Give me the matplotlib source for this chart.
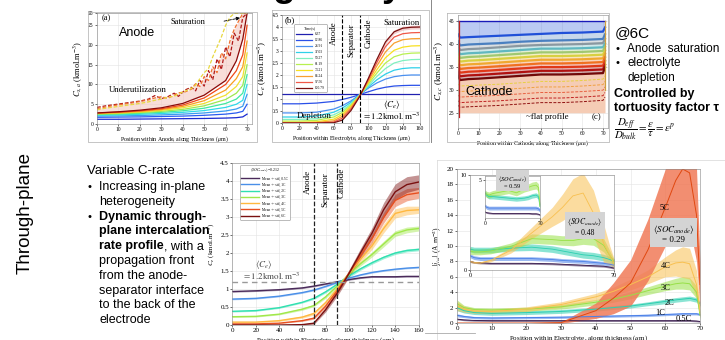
import numpy as np
import matplotlib.pyplot as plt
from matplotlib.lines import Line2D

plt.rcParams['font.family'] = ['Liberation Serif', 'DejaVu Serif']
plt.rcParams['mathtext.fontset'] = 'stix'

# ---- panel (a): anode solid concentration
a_x = [0, 10, 20, 30, 40, 50, 60, 65, 68, 70]
a_curves = [
    [1.2, 1.2, 1.25, 1.3, 1.35, 1.4, 1.5, 1.6, 1.8, 2.5],
    [1.7, 1.75, 1.8, 1.9, 2.0, 2.2, 2.5, 2.8, 3.2, 5.0],
    [2.0, 2.05, 2.15, 2.3, 2.5, 2.8, 3.3, 3.8, 4.5, 7.5],
    [2.2, 2.3, 2.45, 2.65, 2.95, 3.4, 4.2, 5.0, 6.0, 10.0],
    [2.4, 2.5, 2.7, 2.95, 3.35, 4.0, 5.2, 6.3, 7.8, 12.5],
    [2.5, 2.65, 2.9, 3.2, 3.7, 4.6, 6.2, 7.8, 9.8, 15.0],
    [2.6, 2.8, 3.05, 3.45, 4.1, 5.2, 7.3, 9.5, 12.0, 18.0],
    [2.7, 2.9, 3.2, 3.65, 4.45, 5.9, 8.6, 11.5, 14.5, 21.0],
    [2.8, 3.0, 3.35, 3.85, 4.8, 6.6, 10.0, 13.5, 17.5, 25.0],
    [2.8, 3.1, 3.5, 4.1, 5.2, 7.3, 11.0, 16.0, 21.5, 28.0],
]
a_colors = ['#1a2ad0', '#2a5cf0', '#3a9cf0', '#30d8e8', '#40e8a0',
            '#9ce850', '#f0e030', '#f8a020', '#f04818', '#8a0a0a']
a_dash_x = [0, 4, 8, 12, 16, 20, 24, 27, 30, 33, 36, 38, 41, 44, 46, 48, 50,
            52, 54, 56, 58, 60, 62, 64, 66, 68, 70]
a_dash = [
    [4.2, 4.6, 4.9, 5.2, 5.5, 5.8, 6.3, 7.2, 6.4, 6.9, 7.8, 7.0, 8.6, 9.3, 8.4,
     11.0, 9.6, 13.5, 11.2, 16.5, 13.8, 19.5, 17.0, 23.0, 21.0, 27.0, 28.0],
    [3.9, 4.3, 4.7, 5.0, 5.3, 5.7, 6.1, 6.6, 6.9, 6.5, 7.3, 7.9, 8.1, 8.8, 10.2,
     9.5, 12.0, 11.0, 14.5, 13.0, 18.0, 16.5, 21.0, 24.0, 26.0, 28.0, 28.0],
    [3.6, 4.0, 4.3, 4.6, 4.9, 5.2, 5.6, 6.0, 6.3, 6.8, 7.0, 7.6, 8.3, 9.0, 9.8,
     11.5, 13.0, 14.0, 17.0, 19.5, 22.0, 25.0, 27.0, 28.0, 28.0, 28.0, 28.0],
]
a_dash_colors = ['#b01818', '#f07030', '#e8d840']

# ---- panel (b): electrolyte concentration over time
b_x = [0, 20, 40, 60, 70, 80, 90, 100, 110, 120, 130, 140, 150, 160]
b_times = ['6.37', '12.86', '26.91', '37.03', '50.27', '61.19', '73.21',
           '85.24', '97.56', '100.79']
b_curves = [
    [1.2, 1.2, 1.2, 1.2, 1.2, 1.2, 1.2, 1.2, 1.2, 1.2, 1.2, 1.2, 1.2, 1.2],
    [0.8, 0.8, 0.83, 0.9, 0.98, 1.07, 1.18, 1.3, 1.41, 1.49, 1.54, 1.56, 1.57, 1.57],
    [0.42, 0.42, 0.45, 0.58, 0.72, 0.92, 1.18, 1.45, 1.67, 1.83, 1.93, 1.98, 2.0, 2.0],
    [0.25, 0.25, 0.29, 0.45, 0.62, 0.86, 1.17, 1.5, 1.8, 2.04, 2.2, 2.27, 2.3, 2.3],
    [0.15, 0.15, 0.18, 0.34, 0.52, 0.8, 1.16, 1.56, 1.94, 2.27, 2.5, 2.6, 2.64, 2.65],
    [0.08, 0.08, 0.11, 0.25, 0.44, 0.75, 1.15, 1.62, 2.08, 2.5, 2.76, 2.87, 2.91, 2.92],
    [0.03, 0.03, 0.05, 0.16, 0.36, 0.7, 1.14, 1.68, 2.22, 2.72, 3.03, 3.16, 3.21, 3.22],
    [0.01, 0.01, 0.02, 0.09, 0.28, 0.64, 1.13, 1.74, 2.38, 2.96, 3.33, 3.47, 3.51, 3.52],
    [0, 0, 0, 0.04, 0.2, 0.58, 1.12, 1.8, 2.52, 3.18, 3.58, 3.72, 3.76, 3.77],
    [0, 0, 0, 0.01, 0.12, 0.52, 1.1, 1.85, 2.65, 3.38, 3.8, 3.95, 3.99, 4.0],
]
b_colors = ['#2020b0', '#2a50e8', '#4a90f0', '#30d0e8', '#80f0c0',
            '#b8f050', '#f8e020', '#f8a030', '#f05848', '#7a1010']

# ---- panel (c): cathode solid concentration
c_x = [0, 1, 5, 10, 20, 30, 40, 50, 60, 70, 71]
c_top = [44.9, 44.9, 44.9, 44.9, 44.9, 44.9, 44.9, 44.9, 44.9, 44.9, 44.9]
c_curves = [
    [42.0, 41.3, 41.4, 41.5, 41.7, 41.9, 42.1, 42.3, 42.4, 42.6, 43.5],
    [40.5, 39.6, 39.8, 39.9, 40.1, 40.4, 40.6, 40.7, 40.8, 41.0, 42.0],
    [39.5, 38.6, 38.8, 38.9, 39.2, 39.5, 39.7, 39.8, 39.9, 40.1, 41.0],
    [38.6, 37.7, 37.9, 38.0, 38.3, 38.6, 38.9, 38.9, 39.0, 39.2, 40.0],
    [37.8, 36.9, 37.1, 37.2, 37.5, 37.8, 38.1, 38.1, 38.2, 38.4, 39.3],
    [37.0, 36.1, 36.3, 36.4, 36.7, 37.0, 37.3, 37.3, 37.4, 37.6, 38.5],
    [36.2, 35.3, 35.5, 35.6, 35.9, 36.2, 36.5, 36.5, 36.6, 36.8, 37.8],
    [35.4, 34.5, 34.7, 34.8, 35.1, 35.4, 35.7, 35.7, 35.8, 36.0, 37.0],
    [34.6, 33.7, 33.9, 34.0, 34.3, 34.6, 34.9, 34.9, 35.0, 35.2, 36.2],
    [33.8, 32.9, 33.1, 33.2, 33.5, 33.8, 34.1, 34.1, 34.2, 34.4, 35.4],
    [33.0, 32.1, 32.3, 32.4, 32.7, 33.0, 33.3, 33.3, 33.4, 33.6, 34.8],
]
c_colors = ['#2050d8', '#4a80c0', '#8a98a0', '#60b8c0', '#a0c870',
            '#d8d040', '#f0a830', '#f07020', '#e03818', '#b01010', '#700808']
c_dash = [
    [31.2, 30.8, 30.9, 31.0, 31.2, 31.5, 31.8, 31.8, 32.0, 32.3, 33.0],
    [30.0, 29.6, 29.7, 29.8, 30.0, 30.3, 30.6, 30.6, 30.8, 31.1, 31.8],
    [28.8, 28.4, 28.5, 28.6, 28.8, 29.1, 29.4, 29.4, 29.6, 29.9, 30.6],
    [27.6, 27.2, 27.3, 27.4, 27.6, 27.9, 28.2, 28.2, 28.4, 28.7, 29.4],
    [26.6, 26.2, 26.3, 26.4, 26.6, 26.9, 27.2, 27.2, 27.4, 27.7, 28.4],
]
c_dash_colors = ['#e8d040', '#f0a040', '#e86040', '#c02020', '#901010']

# ---- bottom middle: electrolyte concentration, mean +- std per C-rate
m_x = [0, 20, 40, 60, 70, 80, 90, 100, 110, 120, 130, 140, 150, 160]
m_labels = ['Mean +- std, 0.5C', 'Mean +- std, 1C', 'Mean +- std, 2C',
            'Mean +- std, 3C', 'Mean +- std, 4C', 'Mean +- std, 5C',
            'Mean +- std, 6C']
m_mean = [
    [0.93, 0.95, 0.98, 1.03, 1.08, 1.14, 1.2, 1.26, 1.31, 1.34, 1.34, 1.34, 1.35, 1.35],
    [0.72, 0.74, 0.8, 0.9, 0.97, 1.07, 1.18, 1.3, 1.39, 1.46, 1.51, 1.55, 1.58, 1.6],
    [0.38, 0.4, 0.48, 0.63, 0.74, 0.92, 1.13, 1.36, 1.56, 1.73, 1.88, 2.0, 2.07, 2.1],
    [0.23, 0.24, 0.3, 0.44, 0.54, 0.78, 1.08, 1.4, 1.7, 1.96, 2.25, 2.54, 2.64, 2.68],
    [0.08, 0.08, 0.12, 0.22, 0.32, 0.62, 1.0, 1.42, 1.82, 2.2, 2.68, 3.1, 3.18, 3.2],
    [0.03, 0.03, 0.05, 0.12, 0.19, 0.52, 0.95, 1.42, 1.92, 2.4, 2.98, 3.46, 3.62, 3.67],
    [0, 0, 0, 0.01, 0.05, 0.42, 0.88, 1.42, 2.0, 2.55, 3.2, 3.7, 3.9, 3.97],
]
m_std = [
    [0.02, 0.02, 0.02, 0.02, 0.02, 0.02, 0.02, 0.02, 0.02, 0.02, 0.02, 0.02, 0.02, 0.02],
    [0.02, 0.02, 0.02, 0.02, 0.02, 0.02, 0.02, 0.02, 0.02, 0.02, 0.02, 0.02, 0.02, 0.02],
    [0.02, 0.02, 0.02, 0.02, 0.03, 0.03, 0.03, 0.04, 0.04, 0.04, 0.04, 0.04, 0.04, 0.04],
    [0.02, 0.02, 0.02, 0.03, 0.03, 0.04, 0.05, 0.05, 0.06, 0.07, 0.08, 0.08, 0.08, 0.07],
    [0.02, 0.02, 0.02, 0.03, 0.04, 0.05, 0.06, 0.07, 0.08, 0.1, 0.12, 0.13, 0.12, 0.1],
    [0.01, 0.01, 0.01, 0.02, 0.03, 0.05, 0.07, 0.09, 0.1, 0.12, 0.15, 0.17, 0.17, 0.15],
    [0, 0, 0, 0.01, 0.03, 0.06, 0.08, 0.1, 0.12, 0.15, 0.2, 0.22, 0.22, 0.2],
]
m_colors = ['#4a2a5a', '#4a8fe8', '#30e0b0', '#a0e84a', '#ffb840', '#e85020', '#7a1010']

# ---- bottom right: intercalation current density
r_x = [0, 2, 5, 10, 20, 30, 40, 45, 50, 55, 60, 63, 65, 67, 69, 70]
r_names = ['0.5C', '1C', '2C', '3C', '4C', '5C']
r_mean = [
    [0.5, 0.4, 0.33, 0.3, 0.3, 0.3, 0.3, 0.3, 0.3, 0.3, 0.3, 0.3, 0.3, 0.3, 0.25, 0.2],
    [1.0, 0.85, 0.7, 0.65, 0.7, 0.75, 0.85, 0.9, 0.95, 1.0, 1.1, 1.15, 1.2, 1.2, 1.2, 1.1],
    [2.0, 1.6, 1.35, 1.25, 1.35, 1.5, 1.8, 2.0, 2.2, 2.5, 2.8, 3.0, 3.1, 3.2, 3.0, 2.5],
    [2.5, 2.0, 1.75, 1.7, 1.8, 2.1, 2.7, 3.1, 3.6, 4.2, 4.8, 5.1, 5.2, 5.1, 4.0, 1.0],
    [2.2, 1.8, 1.55, 1.5, 1.8, 2.4, 3.4, 4.1, 5.0, 6.0, 7.3, 7.8, 7.9, 7.7, 5.0, 1.5],
    [0, 0, 0, 0, 0, 0.05, 1.6, 3.2, 5.2, 9.5, 15.0, 18.5, 20.0, 19.5, 14.0, 5.0],
]
r_std = [
    [0.1, 0.1, 0.1, 0.1, 0.1, 0.1, 0.1, 0.1, 0.1, 0.1, 0.1, 0.1, 0.1, 0.1, 0.1, 0.1],
    [0.2, 0.15, 0.15, 0.15, 0.15, 0.15, 0.15, 0.15, 0.15, 0.15, 0.15, 0.15, 0.15, 0.15, 0.15, 0.15],
    [0.4, 0.3, 0.25, 0.25, 0.25, 0.25, 0.25, 0.25, 0.25, 0.25, 0.3, 0.3, 0.3, 0.3, 0.3, 0.3],
    [0.5, 0.3, 0.25, 0.25, 0.25, 0.3, 0.35, 0.4, 0.45, 0.5, 0.6, 0.7, 0.8, 0.8, 0.8, 0.5],
    [0.6, 0.4, 0.3, 0.3, 0.3, 0.35, 0.45, 0.55, 0.7, 0.9, 1.3, 1.7, 2.0, 2.0, 1.8, 0.8],
    [0, 0, 0, 0, 0, 0.1, 1.0, 2.0, 3.0, 4.0, 5.0, 6.0, 7.0, 7.0, 6.0, 3.0],
]
r_colors = ['#3c1e50', '#4a80e8', '#2ccfb0', '#98e048', '#f8c050', '#f06030']
r_label_x = [65.2, 58.5, 61.3, 60.1, 60.1, 59.9]
r_label_y = [0.48, 1.26, 2.6, 4.5, 7.4, 15.0]

# mid inset (SOC 0.48) and nested inset (SOC 0.59)
i_x = [0, 2, 5, 10, 20, 30, 40, 45, 50, 55, 60, 65, 68, 70]
i_mean = [
    [0.9, 0.8, 0.75, 0.7, 0.7, 0.7, 0.65, 0.6, 0.55, 0.5, 0.45, 0.4, 0.3, 0.2],
    [1.5, 1.3, 1.2, 1.2, 1.2, 1.2, 1.1, 1.0, 0.95, 0.9, 0.8, 0.7, 0.6, 0.5],
    [2.2, 2.1, 2.1, 2.1, 2.3, 2.4, 2.2, 2.0, 1.8, 1.6, 1.5, 1.3, 1.1, 0.9],
    [2.0, 1.9, 1.9, 2.0, 2.5, 3.3, 3.2, 3.1, 3.1, 3.3, 3.3, 2.6, 1.5, 0.8],
    [0.9, 0.8, 0.75, 1.0, 2.1, 3.9, 5.6, 6.6, 7.8, 8.1, 6.0, 2.8, 1.5, 0.7],
]
i_std = [
    [0.1, 0.1, 0.1, 0.1, 0.1, 0.1, 0.1, 0.1, 0.1, 0.1, 0.1, 0.1, 0.1, 0.1],
    [0.2, 0.2, 0.2, 0.2, 0.2, 0.2, 0.2, 0.2, 0.2, 0.2, 0.2, 0.2, 0.2, 0.2],
    [0.3, 0.3, 0.3, 0.3, 0.3, 0.35, 0.35, 0.35, 0.35, 0.35, 0.35, 0.35, 0.3, 0.3],
    [0.35, 0.3, 0.3, 0.3, 0.35, 0.5, 0.5, 0.5, 0.55, 0.6, 0.7, 0.7, 0.5, 0.3],
    [0.1, 0.1, 0.1, 0.15, 0.3, 0.6, 1.0, 1.4, 1.8, 2.1, 2.4, 2.0, 1.0, 0.5],
]
n_x = [0, 2, 5, 10, 20, 30, 40, 50, 55, 60, 65, 68, 70]
n_mean = [
    [0.8, 0.7, 0.65, 0.6, 0.6, 0.6, 0.6, 0.6, 0.6, 0.55, 0.55, 0.5, 0.4],
    [1.6, 1.4, 1.3, 1.3, 1.3, 1.3, 1.3, 1.3, 1.3, 1.3, 1.3, 1.2, 1.0],
    [3.3, 3.0, 2.8, 2.8, 2.7, 2.6, 2.5, 2.6, 2.7, 2.9, 3.0, 2.8, 1.5],
    [3.3, 3.1, 3.0, 3.2, 3.4, 3.6, 3.3, 3.8, 4.0, 4.2, 4.3, 4.0, 1.5],
]
n_std = [
    [0.1, 0.1, 0.1, 0.1, 0.1, 0.1, 0.1, 0.1, 0.1, 0.1, 0.1, 0.1, 0.1],
    [0.25, 0.25, 0.25, 0.25, 0.25, 0.25, 0.25, 0.25, 0.25, 0.25, 0.25, 0.25, 0.25],
    [0.3, 0.3, 0.3, 0.3, 0.3, 0.3, 0.3, 0.3, 0.3, 0.3, 0.3, 0.3, 0.3],
    [0.4, 0.4, 0.4, 0.4, 0.4, 0.4, 0.4, 0.4, 0.45, 0.5, 0.5, 0.5, 0.4],
]

W, H = 725, 340
fig = plt.figure(figsize=(7.25, 3.4), dpi=100)
sans = ['Liberation Sans', 'DejaVu Sans']
renderer = fig.canvas.get_renderer()


def place(x0, y0, x1, y1):
    return fig.add_axes([x0 / W, 1 - y1 / H, (x1 - x0) / W, (y1 - y0) / H])


def ftext(x, y, s, **kw):
    return fig.text(x / W, 1 - y / H, s, **kw)


def style(ax, size=4):
    ax.tick_params(labelsize=size, length=1.5, pad=1, width=0.4)
    ax.grid(color='#e4e4e4', lw=0.4)
    ax.set_axisbelow(True)
    for s in ax.spines.values():
        s.set_linewidth(0.4)
        s.set_color('#888888')


def frame(x0, y0, x1, y1, color='#bbbbbb'):
    xs = [x0 / W, x1 / W, x1 / W, x0 / W, x0 / W]
    ys = [1 - y0 / H, 1 - y0 / H, 1 - y1 / H, 1 - y1 / H, 1 - y0 / H]
    fig.add_artist(Line2D(xs, ys, lw=0.6, color=color))


# title, cut by the top edge: only the descenders stay visible
ftext(160, 4, 'heterogeneity', fontsize=26.6, fontweight='bold',
      family=sans, va='bottom', ha='left')

# ---------- panel (a)
frame(88, 12, 257, 142)
ax = place(97, 13, 252, 124)
style(ax)
for ys, c in zip(a_curves, a_colors):
    ax.plot(a_x, ys, color=c, lw=0.9)
ax.fill_between(a_dash_x, np.interp(a_dash_x, a_x, a_curves[-1]), a_dash[1],
                color='#f4c8c0', alpha=0.6, lw=0)
for ys, c in zip(a_dash, a_dash_colors):
    ax.plot(a_dash_x, ys, color=c, lw=0.9, ls=(0, (3, 1.5)))
ax.set_xlim(0, 72.3)
ax.set_ylim(0, 28.1)
ax.set_xticks([0, 10, 20, 30, 40, 50, 60, 70])
ax.set_yticks([0, 5, 10, 15, 20, 25, 28])
ax.set_xlabel('Position within Anode, along Thickness ($\\mu$m)', fontsize=4.2, labelpad=1.5)
ax.set_ylabel('$C_{s,a}$ (kmol.m$^{-3}$)', fontsize=6, labelpad=2)
ax.text(2, 26.2, '(a)', fontsize=6)
ax.text(42.5, 25.9, 'Saturation', fontsize=6, ha='center', va='center')
ax.annotate('', xy=(68, 27), xytext=(58, 25.9),
            arrowprops=dict(arrowstyle='-|>', ls='--', lw=0.6, color='k', mutation_scale=5))
ax.text(18.9, 23.0, 'Anode', fontsize=9, family=sans, ha='center', va='center')
ax.text(19.2, 8.6, 'Underutilization', fontsize=6.3, ha='center', va='center')

# ---------- panel (b)
frame(272, 10, 429, 142)
ax = place(282, 15, 420, 123)
style(ax)
for ys, c, t in zip(b_curves, b_colors, b_times):
    ax.plot(b_x, ys, color=c, lw=0.9, label=t)
ax.fill_between(b_x[-6:], [v - 0.08 for v in b_curves[-1][-6:]],
                [v + 0.08 for v in b_curves[-1][-6:]], color='#e8a0a0', alpha=0.5, lw=0)
for xv in [70, 90]:
    ax.axvline(xv, color='k', ls='--', lw=0.8)
ax.set_xlim(0, 160)
ax.set_ylim(0, 4.5)
ax.set_xticks(range(0, 161, 20))
ax.set_yticks([0, 0.5, 1, 1.5, 2, 2.5, 3, 3.5, 4, 4.5])
ax.set_yticklabels(['0', '0.5', '1', '1.5', '2', '2.5', '3', '3.5', '4', '4.5'])
ax.set_xlabel('Position within Electrolyte, along Thickness ($\\mu$m)', fontsize=4.2, labelpad=1.5)
ax.set_ylabel('$C_e$ (kmol.m$^{-3}$)', fontsize=6.5, labelpad=2)
leg = ax.legend(loc='upper left', bbox_to_anchor=(0.075, 0.93), fontsize=2.6,
                title='Time(s)', title_fontsize=2.8, handlelength=4.5,
                labelspacing=0.55, borderpad=0.5, framealpha=1, edgecolor='#888888')
leg.get_frame().set_linewidth(0.4)
ax.text(2.5, 4.3, '(b)', fontsize=6.5, va='center')
ax.text(59.8, 3.74, 'Anode', rotation=90, fontsize=6.3, ha='center', va='center')
ax.text(80.2, 3.46, 'Separator', rotation=90, fontsize=6.3, ha='center', va='center')
ax.text(100, 3.74, 'Cathode', rotation=90, fontsize=6.3, ha='center', va='center')
ax.text(138, 4.15, 'Saturation', fontsize=6.3, ha='center', va='center')
ax.text(37, 0.28, 'Depletion', fontsize=6.3, ha='center', va='center')
ax.text(127, 0.78, r'$\langle C_e \rangle$', fontsize=6.5, ha='center', va='center')
ax.text(127, 0.27, r'$= 1.2\mathrm{kmol.m}^{-3}$', fontsize=6.5, ha='center', va='center')

fig.add_artist(Line2D([431 / W, 431 / W], [1, 1 - 142 / H], lw=0.7, color='#888888'))

# ---------- panel (c)
frame(447, 13, 609, 142)
ax = place(458, 15, 607.5, 128)
style(ax)
ax.fill_between(c_x, 25, c_curves[-1], color='#f5ccb5', lw=0)
prev = c_top
for ys, c in zip(c_curves, c_colors):
    ax.fill_between(c_x, ys, prev, color=c, alpha=0.3, lw=0)
    prev = ys
ax.plot(c_x, c_top, color='#1a1ab8', lw=1.0)
for ys, c in zip(c_curves, c_colors):
    ax.plot(c_x, ys, color=c, lw=1.6)
for ys, c in zip(c_dash, c_dash_colors):
    ax.plot(c_x, ys, color=c, lw=0.7, ls=(0, (3, 1.5)))
ax.plot([0.4, 0.4], [24, 44.9], color='#c02020', lw=0.9)
ax.plot([71, 71], [30, 44.9], color='#d0a040', lw=0.9)
ax.set_xlim(0, 72.2)
ax.set_ylim(21.7, 46.2)
ax.set_xticks([0, 10, 20, 30, 40, 50, 60, 70])
ax.set_yticks([25, 30, 35, 40, 45])
ax.set_xlabel('Position within Cathode, along Thickness ($\\mu$m)', fontsize=4.2, labelpad=1.5)
ax.set_ylabel('$C_{s,c}$ (kmol.m$^{-3}$)', fontsize=6.5, labelpad=2)
ax.text(15.1, 29.6, 'Cathode', fontsize=9, family=sans, ha='center', va='center')
ax.text(43.3, 24.1, '~flat profile', fontsize=6.3, ha='center', va='center')
ax.text(66.8, 24.1, '(c)', fontsize=6.3, ha='center', va='center')

# ---------- right text
ftext(615, 33, '@6C', fontsize=11, family=sans, va='center')
ftext(616, 49, '\u2022', fontsize=8, family=sans, va='center')
ftext(627, 49, 'Anode  saturation', fontsize=8.5, family=sans, va='center')
ftext(616, 63, '\u2022', fontsize=8, family=sans, va='center')
ftext(627, 63, 'electrolyte', fontsize=8.5, family=sans, va='center')
ftext(627, 78, 'depletion', fontsize=8.5, family=sans, va='center')
ftext(614, 94, 'Controlled by', fontsize=9, family=sans, fontweight='bold', va='center')
ftext(614, 108, 'tortuosity factor \u03c4', fontsize=9, family=sans, fontweight='bold', va='center')
ftext(614, 129.5, r'$\dfrac{D_{eff}}{D_{bulk}} = \dfrac{\varepsilon}{\tau} = \varepsilon^{p}$',
      fontsize=7.8, va='center')

# ---------- left text
ftext(25, 213, 'Through-plane', fontsize=13.5, family=sans, rotation=90, ha='center', va='center')
ftext(87, 171, 'Variable C-rate', fontsize=9.5, family=sans, va='center')
lines = [('Increasing in-plane', 'normal', True), ('heterogeneity', 'normal', False),
         ('Dynamic through-', 'bold', True), ('plane intercalation', 'bold', False),
         ('rate profile', 'bold', False), ('propagation front', 'normal', False),
         ('from the anode-', 'normal', False), ('separator interface', 'normal', False),
         ('to the back of the', 'normal', False), ('electrode', 'normal', False)]
for k, (s, w, bullet) in enumerate(lines):
    yy = 187 + k * 14.8
    if bullet:
        ftext(88, yy, '\u2022', fontsize=8, family=sans, va='center')
    t = ftext(99, yy, s, fontsize=9, family=sans, fontweight=w, va='center')
    if s == 'rate profile':
        tb = t.get_window_extent(renderer)
        ftext(99 + tb.width, yy, ', with a', fontsize=9, family=sans, va='center')

# ---------- bottom middle
ax = place(232.5, 163, 418.5, 325)
style(ax)
for mu, sd, c, lab in zip(m_mean, m_std, m_colors, m_labels):
    lo = [a - b for a, b in zip(mu, sd)]
    hi = [a + b for a, b in zip(mu, sd)]
    ax.fill_between(m_x, lo, hi, color=c, alpha=0.45, lw=0)
    ax.plot(m_x, mu, color=c, lw=1.0, label=lab)
ax.axhline(1.2, color='#999999', ls='--', lw=1.0, dashes=(4, 3))
for xv in [70, 90]:
    ax.axvline(xv, color='#222222', ls='--', lw=0.9)
ax.set_xlim(0, 160)
ax.set_ylim(0, 4.5)
ax.set_xticks(range(0, 161, 20))
ax.set_yticks([0, 0.5, 1, 1.5, 2, 2.5, 3, 3.5, 4, 4.5])
ax.set_yticklabels(['0', '0.5', '1', '1.5', '2', '2.5', '3', '3.5', '4', '4.5'])
ax.tick_params(labelsize=5)
ax.set_xlabel('Position within Electrolyte, along thickness ($\\mu$m)', fontsize=5, labelpad=1)
ax.set_ylabel('$C_e$ (kmol.m$^{-3}$)', fontsize=5, labelpad=2)
leg = ax.legend(loc='upper left', bbox_to_anchor=(0.03, 1.0), fontsize=2.6,
                title=r'$\langle SOC_{anode}\rangle$=0.212', title_fontsize=2.8,
                handlelength=5, labelspacing=0.6, borderpad=0.4, framealpha=1,
                edgecolor='#888888')
leg.get_frame().set_linewidth(0.4)
ax.text(65, 3.98, 'Anode', rotation=90, fontsize=6.5, ha='center', va='center')
ax.text(80, 3.75, 'Separator', rotation=90, fontsize=6.5, ha='center', va='center')
ax.text(94, 3.95, 'Cathode', rotation=90, fontsize=6.5, ha='center', va='center')
ax.text(27, 1.68, r'$\langle C_e \rangle$', fontsize=6.5, ha='center', va='center', color='#444444')
ax.text(33, 1.36, r'$= 1.2\mathrm{kmol.m}^{-3}$', fontsize=6.5, ha='center', va='center',
        color='#444444')

# ---------- bottom right
frame(437, 160, 726, 341, color='#dddddd')
fig.add_artist(Line2D([425 / W, 475 / W], [1 - 333 / H, 1 - 333 / H], lw=0.6, color='#aaaaaa'))
ax = place(457, 169, 700, 323)
style(ax)
for mu, sd, c, k in zip(r_mean, r_std, r_colors, range(6)):
    lo = [a - b for a, b in zip(mu, sd)]
    hi = [a + b for a, b in zip(mu, sd)]
    if k == 5:
        ax.fill_between(r_x, lo, hi, color='#f07a58', alpha=0.85, lw=0)
    else:
        ax.fill_between(r_x, lo, hi, color=c, alpha=0.55, lw=0)
    ax.plot(r_x, mu, color=c if k != 5 else '#e04810', lw=0.7)
for name, xx, yy in zip(r_names, r_label_x, r_label_y):
    ax.text(xx, yy, name, fontsize=6, ha='center', va='center')
ax.text(62.4, 11.6, '$\\langle SOC_{anode}\\rangle$\n= 0.29', fontsize=6.5, ha='center',
        va='center', linespacing=1.1,
        bbox=dict(boxstyle='square,pad=0.3', fc='#d4d4d4', ec='none'))
ax.set_xlim(0, 70)
ax.set_ylim(0, 20)
ax.set_xticks(range(0, 71, 10))
ax.set_yticks(range(0, 21, 2))
ax.tick_params(labelsize=5)
ax.set_xlabel('Position within Electrolyte, along thickness ($\\mu$m)', fontsize=5, labelpad=1)
ax.set_ylabel('$|j_{int}|$ (A.m$^{-2}$)', fontsize=5.5, labelpad=2)

axi = place(470, 175, 614, 270)
style(axi)
for mu, sd, c in zip(i_mean, i_std, r_colors):
    lo = [a - b for a, b in zip(mu, sd)]
    hi = [a + b for a, b in zip(mu, sd)]
    axi.fill_between(i_x, lo, hi, color=c, alpha=0.55, lw=0)
    axi.plot(i_x, mu, color=c, lw=0.6)
axi.text(55.7, 4.6, '$\\langle SOC_{anode}\\rangle$\n= 0.48', fontsize=5.5, ha='center',
         va='center', linespacing=1.1,
         bbox=dict(boxstyle='square,pad=0.3', fc='#d4d4d4', ec='none'))
axi.set_xlim(0, 70)
axi.set_ylim(0, 10)
axi.set_xticks([0, 70])
axi.set_yticks([0, 10])
axi.tick_params(labelsize=4.5)

axn = place(485, 176, 540, 218)
style(axn)
for mu, sd, c in zip(n_mean, n_std, r_colors):
    lo = [a - b for a, b in zip(mu, sd)]
    hi = [a + b for a, b in zip(mu, sd)]
    axn.fill_between(n_x, lo, hi, color=c, alpha=0.55, lw=0)
    axn.plot(n_x, mu, color=c, lw=0.6)
axn.text(35, 4.75, '$\\langle SOC_{anode}\\rangle$\n= 0.59', fontsize=4.5, ha='center',
         va='center', linespacing=1.1,
         bbox=dict(boxstyle='square,pad=0.3', fc='#d4d4d4', ec='none'))
axn.set_xlim(0, 70)
axn.set_ylim(0, 5.5)
axn.set_xticks([0, 70])
axn.set_yticks([5])
axn.tick_params(labelsize=4)

fig.savefig('out.png', dpi=100)
